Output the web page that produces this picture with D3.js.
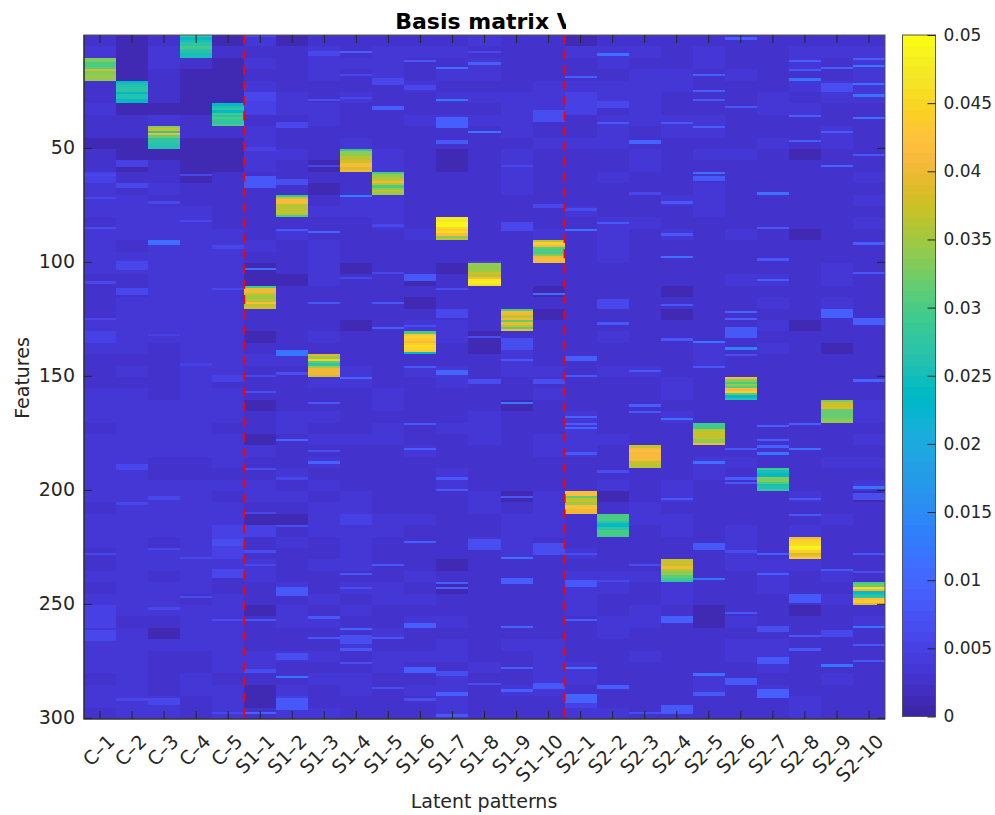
<!DOCTYPE html>
<html>
<head>
<meta charset="utf-8">
<script src="https://d3js.org/d3.v7.min.js"></script>
<style>
body { margin: 0; background: #fff; }
text { font-family: "DejaVu Sans", sans-serif; fill: #262626; }
.cell { shape-rendering: crispEdges; }
</style>
</head>
<body>
<svg width="995" height="815"></svg>
<script>
// Column names
var controlNames = ['C–1', 'C–2', 'C–3', 'C–4', 'C–5'];
var s1Names = ['S1–1', 'S1–2', 'S1–3', 'S1–4', 'S1–5', 'S1–6', 'S1–7', 'S1–8', 'S1–9', 'S1–10'];
var s2Names = ['S2–1', 'S2–2', 'S2–3', 'S2–4', 'S2–5', 'S2–6', 'S2–7', 'S2–8', 'S2–9', 'S2–10'];
var patterns = controlNames.concat(s1Names, s2Names);

var yTicks = [50, 100, 150, 200, 250, 300];
var colorTicks = [0, 0.005, 0.01, 0.015, 0.02, 0.025, 0.03, 0.035, 0.04, 0.045, 0.05];
var colorTickLabels = ['0', '0.005', '0.01', '0.015', '0.02', '0.025', '0.03', '0.035', '0.04', '0.045', '0.05'];

var bandUnit = 0.0013;
var controlBands = [
    '2322223221 2243332333 3222234322 2333233333 3233322323 4433332332',
    '1111111221 1122333323 3223333323 2333333333 3333333333 3233333333',
    '2332221322 1223233333 3333333222 2233333223 3333233233 3213222233',
    '1221111221 1112233333 3333333333 3333333223 3333333332 3333223322',
    '1211111221 1122222333 3333333333 2333233323 2334443223 3333332333'
];
var s1Bands = [
    '3232344233 3322222232 1111221232 2212213223 3214223322 1222332112',
    '1222233222 3222332322 2122222232 2223322232 3212322232 3322322343',
    '2333223322 2121232233 3322223222 3223232323 2333223223 2322323223',
    '2232232223 2222332222 1222212223 3222232222 3343333232 3223223322',
    '2333222222 3322333222 2222222222 2332332222 2233222233 2232332222',
    '2322322322 2222222322 2121233323 2222223222 2232222323 2322322322',
    '2323232322 1122222222 1222233223 3222322233 2222221212 2323323333',
    '3233232322 2222222222 1222221122 2223332222 3322322222 2222232222',
    '2222233332 3333222222 2222322333 2212222222 1233332222 2223222322',
    '2222333223 2222222323 2212122223 2322233222 3333222222 2223333322'
];
var s2Bands = [
    '1322344223 2222232222 2222222222 2223333222 1222232333 3222233243',
    '2332332333 2232223333 2222223223 2222232223 1223222332 2332222223',
    '2323333322 3322223222 2222222223 2222222322 2332222322 3322322222',
    '2223322332 2222322322 2212122222 3323222223 3233222233 2222222222',
    '2332222332 3223332222 2222222332 2222222332 2222222222 1122223322',
    '2223222222 3222222322 2322222222 2222222322 2223333222 2323322222',
    '2222233223 2222222222 2323232322 2222222222 2222223332 2223332322',
    '2332323222 1222222122 2222212222 2222222222 3223323222 1222222233',
    '2322332233 2222222222 3323222122 2222222322 2232222323 2222223222',
    '2333332222 2232323222 2222222222 2233232323 1222222222 2322222222'
];

// Short bright streaks seen in each column: [first row, last row, value]
var controlStreaks = [
    [[85, 85, .007], [109, 109, .006], [125, 125, .006], [228, 228, .006], [262, 266, .006], [62, 62, .006], [72, 72, .006]],
    [[66, 67, .006], [56, 58, .005], [100, 103, .006], [112, 114, .006], [189, 191, .006], [206, 206, .006], [292, 292, .006]],
    [[91, 92, .011], [203, 204, .006], [226, 226, .006], [252, 252, .006], [292, 294, .006], [74, 74, .006], [132, 132, .005]],
    [[82, 82, .006], [247, 247, .007], [230, 230, .006], [62, 62, .006], [145, 145, .005]],
    [[222, 224, .007], [235, 238, .006], [257, 257, .007], [150, 152, .005], [93, 94, .006], [112, 112, .006], [298, 298, .006]]
];
var s1Streaks = [
    [[26, 29, .006], [63, 67, .008], [103, 103, .011], [150, 150, .006], [157, 157, .007], [191, 191, .007], [210, 210, .006], [227, 227, .007], [233, 233, .006], [257, 257, .008], [279, 280, .007], [298, 298, .010], [50, 51, .005], [1, 1, .006]],
    [[39, 41, .006], [64, 66, .007], [86, 86, .008], [139, 141, .012], [149, 149, .007], [178, 178, .010], [195, 195, .006], [216, 216, .007], [243, 246, .008], [272, 274, .007], [282, 282, .012], [292, 296, .008]],
    [[87, 87, .010], [118, 118, .008], [162, 162, .008], [183, 183, .007], [188, 188, .010], [256, 256, .008], [265, 265, .008], [29, 29, .007], [58, 58, .006], [8, 9, .006]],
    [[8, 8, .009], [71, 71, .013], [151, 151, .010], [237, 237, .008], [243, 243, .007], [261, 261, .010], [264, 267, .007], [270, 270, .008], [276, 276, .007], [107, 107, .006], [28, 28, .006], [18, 18, .006]],
    [[32, 33, .009], [118, 118, .008], [129, 129, .009], [233, 233, .008], [265, 265, .008], [287, 287, .007], [105, 105, .006], [84, 84, .006], [20, 22, .006]],
    [[12, 12, .008], [106, 108, .008], [128, 128, .007], [146, 146, .008], [171, 171, .008], [182, 182, .009], [223, 223, .009], [259, 260, .009], [278, 280, .009], [292, 292, .007], [23, 24, .006]],
    [[15, 15, .011], [29, 29, .012], [37, 41, .009], [112, 112, .007], [121, 124, .006], [148, 149, .010], [195, 195, .008], [200, 200, .008], [241, 241, .009], [243, 243, .009], [280, 281, .007], [289, 290, .009], [299, 299, .008], [47, 48, .008]],
    [[13, 13, .009], [43, 43, .012], [133, 133, .007], [152, 153, .007], [222, 226, .007], [285, 285, .007], [8, 8, .006], [100, 101, .005]],
    [[58, 58, .006], [134, 138, .007], [143, 143, .008], [162, 162, .012], [203, 203, .008], [230, 230, .011], [239, 241, .009], [260, 260, .010], [278, 278, .009], [288, 288, .009], [83, 86, .006]],
    [[34, 38, .007], [114, 114, .011], [152, 153, .007], [224, 228, .007], [285, 287, .008], [75, 76, .006], [92, 92, .005]]
];
var s2Streaks = [
    [[19, 19, .009], [77, 77, .007], [86, 86, .011], [142, 143, .009], [150, 150, .008], [168, 168, .010], [171, 171, .009], [173, 173, .010], [184, 184, .008], [228, 228, .007], [240, 242, .008], [257, 257, .009], [278, 278, .011], [290, 293, .010]],
    [[9, 9, .011], [39, 39, .008], [83, 83, .008], [117, 120, .006], [127, 127, .008], [192, 192, .007], [240, 240, .006], [286, 287, .009], [30, 32, .006]],
    [[47, 48, .010], [148, 148, .008], [163, 163, .009], [166, 166, .008], [233, 233, .007], [298, 298, .007], [70, 70, .006]],
    [[39, 39, .008], [74, 74, .008], [98, 98, .011], [88, 88, .008], [119, 119, .008], [134, 134, .008], [169, 169, .011], [204, 204, .008], [256, 258, .009], [295, 298, .008]],
    [[18, 18, .009], [25, 25, .009], [29, 29, .008], [41, 41, .009], [61, 61, .011], [63, 64, .008], [135, 135, .012], [146, 146, .008], [180, 180, .009], [188, 188, .011], [224, 226, .008], [239, 239, .012], [281, 281, .011], [289, 290, .008]],
    [[2, 2, .009], [32, 32, .008], [122, 122, .010], [125, 125, .009], [129, 133, .008], [138, 138, .014], [141, 141, .007], [182, 182, .008], [195, 195, .009], [197, 197, .008], [227, 227, .007], [254, 254, .008], [283, 285, .008]],
    [[70, 70, .011], [85, 85, .008], [99, 99, .008], [108, 108, .009], [172, 172, .009], [178, 178, .009], [181, 181, .009], [184, 184, .012], [228, 228, .009], [237, 237, .009], [260, 262, .007], [274, 276, .008], [288, 291, .009]],
    [[12, 12, .009], [16, 16, .008], [20, 20, .012], [36, 36, .009], [47, 47, .009], [171, 171, .009], [182, 182, .011], [204, 204, .008], [211, 211, .008], [246, 249, .008], [264, 264, .008], [270, 270, .008]],
    [[15, 15, .009], [22, 25, .007], [43, 43, .008], [58, 58, .010], [121, 124, .009], [235, 235, .008], [262, 264, .006], [277, 277, .012]],
    [[11, 11, .009], [14, 14, .013], [22, 22, .011], [27, 27, .012], [37, 37, .011], [53, 53, .008], [92, 92, .009], [105, 105, .008], [125, 127, .009], [152, 152, .010], [199, 199, .012], [202, 204, .007], [228, 228, .008], [236, 236, .007], [260, 260, .012], [268, 268, .008], [275, 275, .008]]
];

// Strong 10-row blocks: first row of each block, then its ten values top to bottom
var blockStart = [11, 21, 41, 1, 31, 111, 71, 141, 51, 61, 131, 81, 101, 121, 91, 201, 211, 181, 231, 171, 151, 191, 221, 161, 241];
var blockValues = [
    [.033, .033, .030, .030, .031, .038, .033, .034, .035, .034],
    [.024, .025, .026, .027, .027, .024, .026, .026, .024, .024],
    [.034, .037, .028, .040, .032, .028, .028, .027, .026, .026],
    [.028, .024, .025, .027, .027, .029, .027, .026, .025, .025],
    [.024, .026, .027, .024, .029, .027, .030, .028, .027, .030],
    [.029, .040, .040, .037, .035, .035, .036, .042, .036, .038],
    [.028, .037, .041, .041, .036, .036, .036, .037, .036, .030],
    [.039, .035, .044, .031, .028, .035, .040, .040, .040, .038],
    [.028, .034, .034, .036, .036, .038, .041, .041, .039, .040],
    [.030, .034, .035, .037, .040, .036, .030, .034, .036, .035],
    [.030, .043, .045, .043, .041, .044, .046, .045, .043, .024],
    [.047, .047, .049, .049, .046, .044, .046, .042, .034, .036],
    [.035, .034, .034, .035, .038, .036, .041, .047, .048, .046],
    [.030, .041, .040, .037, .040, .032, .040, .036, .031, .040],
    [.036, .044, .041, .031, .030, .030, .033, .040, .041, .041],
    [.042, .042, .032, .036, .038, .035, .042, .042, .040, .040],
    [.030, .030, .030, .027, .024, .024, .027, .030, .030, .029],
    [.037, .041, .042, .041, .041, .041, .041, .037, .036, .036],
    [.037, .038, .037, .040, .036, .034, .034, .031, .029, .028],
    [.029, .029, .029, .036, .037, .037, .037, .034, .034, .040],
    [.041, .034, .030, .034, .031, .041, .043, .031, .024, .026],
    [.029, .025, .024, .024, .033, .033, .030, .025, .026, .028],
    [.041, .044, .045, .046, .049, .048, .044, .038, .040, .043],
    [.033, .037, .038, .039, .032, .032, .032, .032, .033, .034],
    [.030, .032, .046, .040, .024, .026, .028, .042, .043, .039]
];

var parula = [
    [.2422,.1504,.6603],[.2504,.1650,.7076],[.2578,.1818,.7511],[.2647,.1978,.7952],
    [.2706,.2147,.8364],[.2751,.2342,.8710],[.2783,.2559,.8991],[.2803,.2782,.9221],
    [.2813,.3006,.9414],[.2810,.3228,.9579],[.2795,.3447,.9717],[.2760,.3667,.9829],
    [.2699,.3892,.9906],[.2602,.4123,.9952],[.2440,.4358,.9988],[.2206,.4603,.9973],
    [.1963,.4847,.9892],[.1834,.5074,.9798],[.1786,.5289,.9682],[.1764,.5499,.9520],
    [.1687,.5703,.9359],[.1540,.5902,.9218],[.1460,.6091,.9079],[.1380,.6276,.8973],
    [.1248,.6459,.8883],[.1113,.6635,.8763],[.0952,.6798,.8598],[.0689,.6948,.8394],
    [.0297,.7082,.8163],[.0036,.7203,.7917],[.0067,.7312,.7660],[.0433,.7411,.7394],
    [.0964,.7500,.7120],[.1408,.7584,.6842],[.1717,.7670,.6554],[.1938,.7758,.6251],
    [.2161,.7843,.5923],[.2470,.7918,.5567],[.2906,.7973,.5188],[.3406,.8008,.4789],
    [.3909,.8029,.4354],[.4456,.8024,.3909],[.5044,.7993,.3480],[.5616,.7942,.3045],
    [.6174,.7876,.2612],[.6720,.7793,.2227],[.7242,.7698,.1910],[.7738,.7598,.1646],
    [.8203,.7498,.1535],[.8634,.7406,.1596],[.9035,.7330,.1774],[.9393,.7288,.2100],
    [.9728,.7298,.2394],[.9956,.7434,.2371],[.9970,.7659,.2199],[.9952,.7861,.1996],
    [.9892,.8134,.1535],[.9786,.8386,.1416],[.9676,.8639,.1294],[.9610,.8890,.1537],
    [.9597,.9135,.1423],[.9628,.9373,.1265],[.9691,.9606,.1064],[.9769,.9839,.0805]
].map(function(c) { return d3.rgb(c[0] * 255, c[1] * 255, c[2] * 255).formatHex(); });

// Build the matrix cells from the arrays above
var bands = controlBands.concat(s1Bands, s2Bands).map(function(s) { return s.replace(/ /g, ''); });
var streaks = controlStreaks.concat(s1Streaks, s2Streaks);
var cells = [];
patterns.forEach(function(name, j) {
    var col = d3.range(300).map(function(r) { return +bands[j].charAt(Math.floor(r / 5)) * bandUnit; });
    streaks[j].forEach(function(s) {
        for (var r = s[0]; r <= s[1]; r++) col[r - 1] = s[2];
    });
    blockValues[j].forEach(function(v, k) { col[blockStart[j] - 1 + k] = v; });
    col.forEach(function(v, r) { cells.push({pattern: name, row: r + 1, value: v}); });
});

var svg = d3.select('svg');
var padding = {t: 35, r: 110, b: 96, l: 84};
var chartWidth = 995 - padding.l - padding.r;
var chartHeight = 815 - padding.t - padding.b;
var chartG = svg.append('g').attr('transform', 'translate(' + [padding.l, padding.t] + ')');

var xScale = d3.scaleBand().domain(patterns).range([0, chartWidth]);
var yScale = d3.scaleLinear().domain([0.5, 300.5]).range([0, chartHeight]);
var colorScale = d3.scaleQuantize().domain([0, 0.05]).range(parula);

chartG.selectAll('.cell').data(cells).enter().append('rect')
    .attr('class', 'cell')
    .attr('x', function(d) { return xScale(d.pattern); })
    .attr('y', function(d) { return yScale(d.row - 0.5); })
    .attr('width', xScale.bandwidth())
    .attr('height', yScale(1.5) - yScale(0.5))
    .attr('fill', function(d) { return colorScale(d.value); });

// Red dashed separators between the groups
[controlNames.length, controlNames.length + s1Names.length].forEach(function(n) {
    chartG.append('line')
        .attr('x1', xScale.step() * n).attr('x2', xScale.step() * n)
        .attr('y1', 0).attr('y2', chartHeight)
        .attr('stroke', '#f00').attr('stroke-width', 2).attr('stroke-dasharray', '9 6.3');
});

// Axis frame and inward ticks
var frameColor = '#262626';
chartG.append('rect')
    .attr('width', chartWidth).attr('height', chartHeight)
    .attr('fill', 'none').attr('stroke', '#555').attr('stroke-width', 1);
chartG.append('path')
    .attr('d', 'M0,0V' + chartHeight + 'H' + chartWidth)
    .attr('fill', 'none').attr('stroke', frameColor).attr('stroke-width', 1.2);

var xAxisBottom = d3.axisBottom(xScale).tickSizeInner(-8).tickSizeOuter(0).tickFormat('');
var xAxisTop = d3.axisTop(xScale).tickSizeInner(-8).tickSizeOuter(0).tickFormat('');
var yAxisLeft = d3.axisLeft(yScale).tickValues(yTicks).tickSizeInner(-8).tickSizeOuter(0).tickPadding(9);
var yAxisRight = d3.axisRight(yScale).tickValues(yTicks).tickSizeInner(-8).tickSizeOuter(0).tickFormat('');

chartG.append('g').attr('transform', 'translate(0,' + chartHeight + ')').call(xAxisBottom);
chartG.append('g').call(xAxisTop);
chartG.append('g').call(yAxisLeft);
chartG.append('g').attr('transform', 'translate(' + chartWidth + ',0)').call(yAxisRight);
chartG.selectAll('.domain').remove();
chartG.selectAll('.tick line').attr('stroke', frameColor);
chartG.selectAll('.tick text').style('font-size', '19px').style('font-family', '"DejaVu Sans"').attr('fill', frameColor);

// Rotated column labels
chartG.selectAll('.col-label').data(patterns).enter().append('text')
    .attr('class', 'col-label')
    .attr('transform', function(d) {
        return 'translate(' + (xScale(d) + xScale.bandwidth() / 2 + 11) + ',' + (chartHeight + 19) + ') rotate(-45)';
    })
    .attr('text-anchor', 'end')
    .attr('dy', '.35em')
    .style('font-size', '19px')
    .text(function(d) { return d; });

// Axis titles
chartG.append('text')
    .attr('x', chartWidth / 2 - 0.5).attr('y', chartHeight + 89)
    .attr('text-anchor', 'middle').style('font-size', '19px')
    .text('Latent patterns');
chartG.append('text')
    .attr('transform', 'translate(-62,' + (chartHeight / 2 + 1) + ') rotate(-90)')
    .attr('dy', '.35em')
    .attr('text-anchor', 'middle').style('font-size', '19px')
    .text('Features');

// Title runs past the clip on the right, as in the source figure
svg.append('clipPath').attr('id', 'titleClip').append('rect')
    .attr('x', 380).attr('y', 0).attr('width', 186).attr('height', 35);
svg.append('text')
    .attr('x', padding.l + chartWidth / 2).attr('y', 29)
    .attr('text-anchor', 'middle')
    .attr('clip-path', 'url(#titleClip)')
    .style('font-size', '22px').style('font-weight', 'bold').style('fill', '#000')
    .text('Basis matrix V');

// Colorbar
var barX = 902.5, barWidth = 33, barTop = 35, barBottom = 716.5;
var barScale = d3.scaleLinear().domain([0, 0.05]).range([barBottom, barTop]);
var barG = svg.append('g');
barG.selectAll('.bar-step').data(parula).enter().append('rect')
    .attr('class', 'cell bar-step')
    .attr('x', barX).attr('width', barWidth)
    .attr('y', function(d, i) { return barScale((i + 1) / parula.length * 0.05); })
    .attr('height', (barBottom - barTop) / parula.length + 0.5)
    .attr('fill', function(d) { return d; });
barG.append('rect')
    .attr('x', barX).attr('y', barTop).attr('width', barWidth).attr('height', barBottom - barTop)
    .attr('fill', 'none').attr('stroke', '#555');
barG.append('g').attr('transform', 'translate(' + (barX + barWidth) + ',0)')
    .call(d3.axisRight(barScale).tickValues(colorTicks).tickSizeInner(-8).tickSizeOuter(0).tickPadding(8)
        .tickFormat(function(d, i) { return colorTickLabels[i]; }))
    .call(function(g) {
        g.select('.domain').remove();
        g.selectAll('.tick line').attr('stroke', frameColor);
        g.selectAll('.tick text').style('font-size', '17px').style('font-family', '"DejaVu Sans"').attr('fill', frameColor);
    });
</script>
</body>
</html>
